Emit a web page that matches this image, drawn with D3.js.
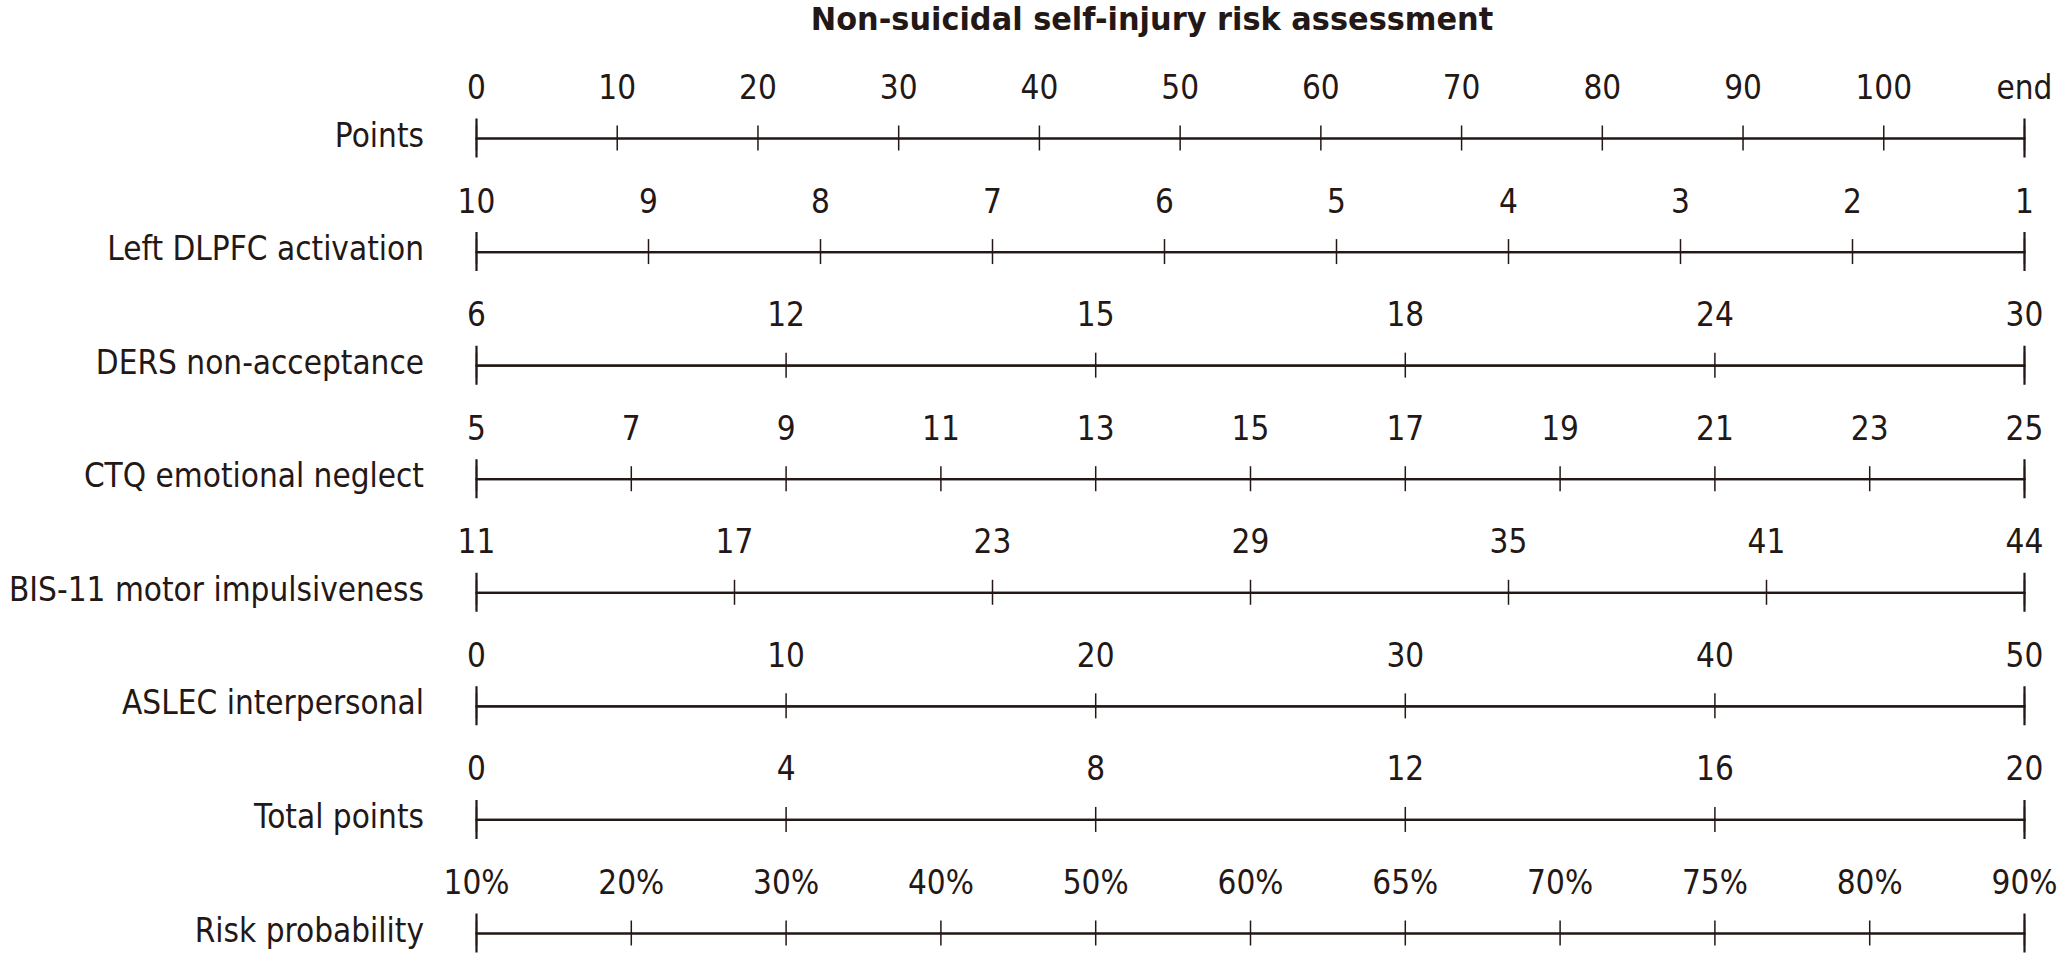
<!DOCTYPE html>
<html>
<head>
<meta charset="utf-8">
<script src="https://cdn.jsdelivr.net/npm/d3@7"></script>
<style>
  html, body { margin: 0; padding: 0; background: #fff; }
  svg text { font-family: "DejaVu Sans", Verdana, sans-serif; fill: #231815; }
  .axis path, .axis line { stroke: #231815; }
</style>
</head>
<body>
<div id="chart"></div>
<script>
const title = 'Non-suicidal self-injury risk assessment';

const rowLabels = [
  'Points',
  'Left DLPFC activation',
  'DERS non-acceptance',
  'CTQ emotional neglect',
  'BIS-11 motor impulsiveness',
  'ASLEC interpersonal',
  'Total points',
  'Risk probability'
];

// tick labels of every scale, left to right
const pointsTicks = ['0', '10', '20', '30', '40', '50', '60', '70', '80', '90', '100', 'end'];
const dlpfcTicks = ['10', '9', '8', '7', '6', '5', '4', '3', '2', '1'];
const dersTicks = ['6', '12', '15', '18', '24', '30'];
const ctqTicks = ['5', '7', '9', '11', '13', '15', '17', '19', '21', '23', '25'];
const bisTicks = ['11', '17', '23', '29', '35', '41', '44'];
const aslecTicks = ['0', '10', '20', '30', '40', '50'];
const totalTicks = ['0', '4', '8', '12', '16', '20'];
const riskTicks = ['10%', '20%', '30%', '40%', '50%', '60%', '65%', '70%', '75%', '80%', '90%'];

const rowTicks = [pointsTicks, dlpfcTicks, dersTicks, ctqTicks, bisTicks, aslecTicks, totalTicks, riskTicks];

const width = 2066;
const height = 969;
const axisLeft = 476;
const axisRight = 2024;
const squeeze = 0.9; // the source font is narrower than DejaVu

const svg = d3.select('#chart')
  .append('svg')
  .attr('width', width)
  .attr('height', height);

svg.append('text')
  .attr('transform', `translate(${1152}, ${29.5}) scale(0.95, 1)`)
  .attr('text-anchor', 'middle')
  .style('font-size', '32px')
  .style('font-weight', 'bold')
  .text(title);

const y = d3.scalePoint()
  .domain(rowLabels)
  .range([138, 933]);

rowLabels.forEach((label, i) => {
  const x = d3.scalePoint()
    .domain(rowTicks[i])
    .range([axisLeft, axisRight]);

  const row = svg.append('g')
    .attr('transform', `translate(0, ${y(label)})`);

  row.append('text')
    .attr('transform', `translate(${axisLeft - 52}, 8.5) scale(${squeeze}, 1)`)
    .attr('text-anchor', 'end')
    .style('font-size', '33px')
    .text(label);

  const top = row.append('g')
    .attr('class', 'axis')
    .call(d3.axisTop(x).tickSizeInner(12.5).tickSizeOuter(19.5).tickPadding(26.5));

  const bottom = row.append('g')
    .attr('class', 'axis')
    .call(d3.axisBottom(x).tickSizeInner(12.5).tickSizeOuter(19.5).tickFormat(''));

  [top, bottom].forEach(g => {
    g.attr('font-family', null).attr('font-size', null);
    g.select('.domain').attr('stroke-width', 2.2);
    g.selectAll('.tick line').attr('stroke-width', 1.5);
  });

  top.selectAll('.tick text')
    .attr('transform', `scale(${squeeze}, 1)`)
    .attr('fill', null)
    .style('font-size', '33px');
});
</script>
</body>
</html>
